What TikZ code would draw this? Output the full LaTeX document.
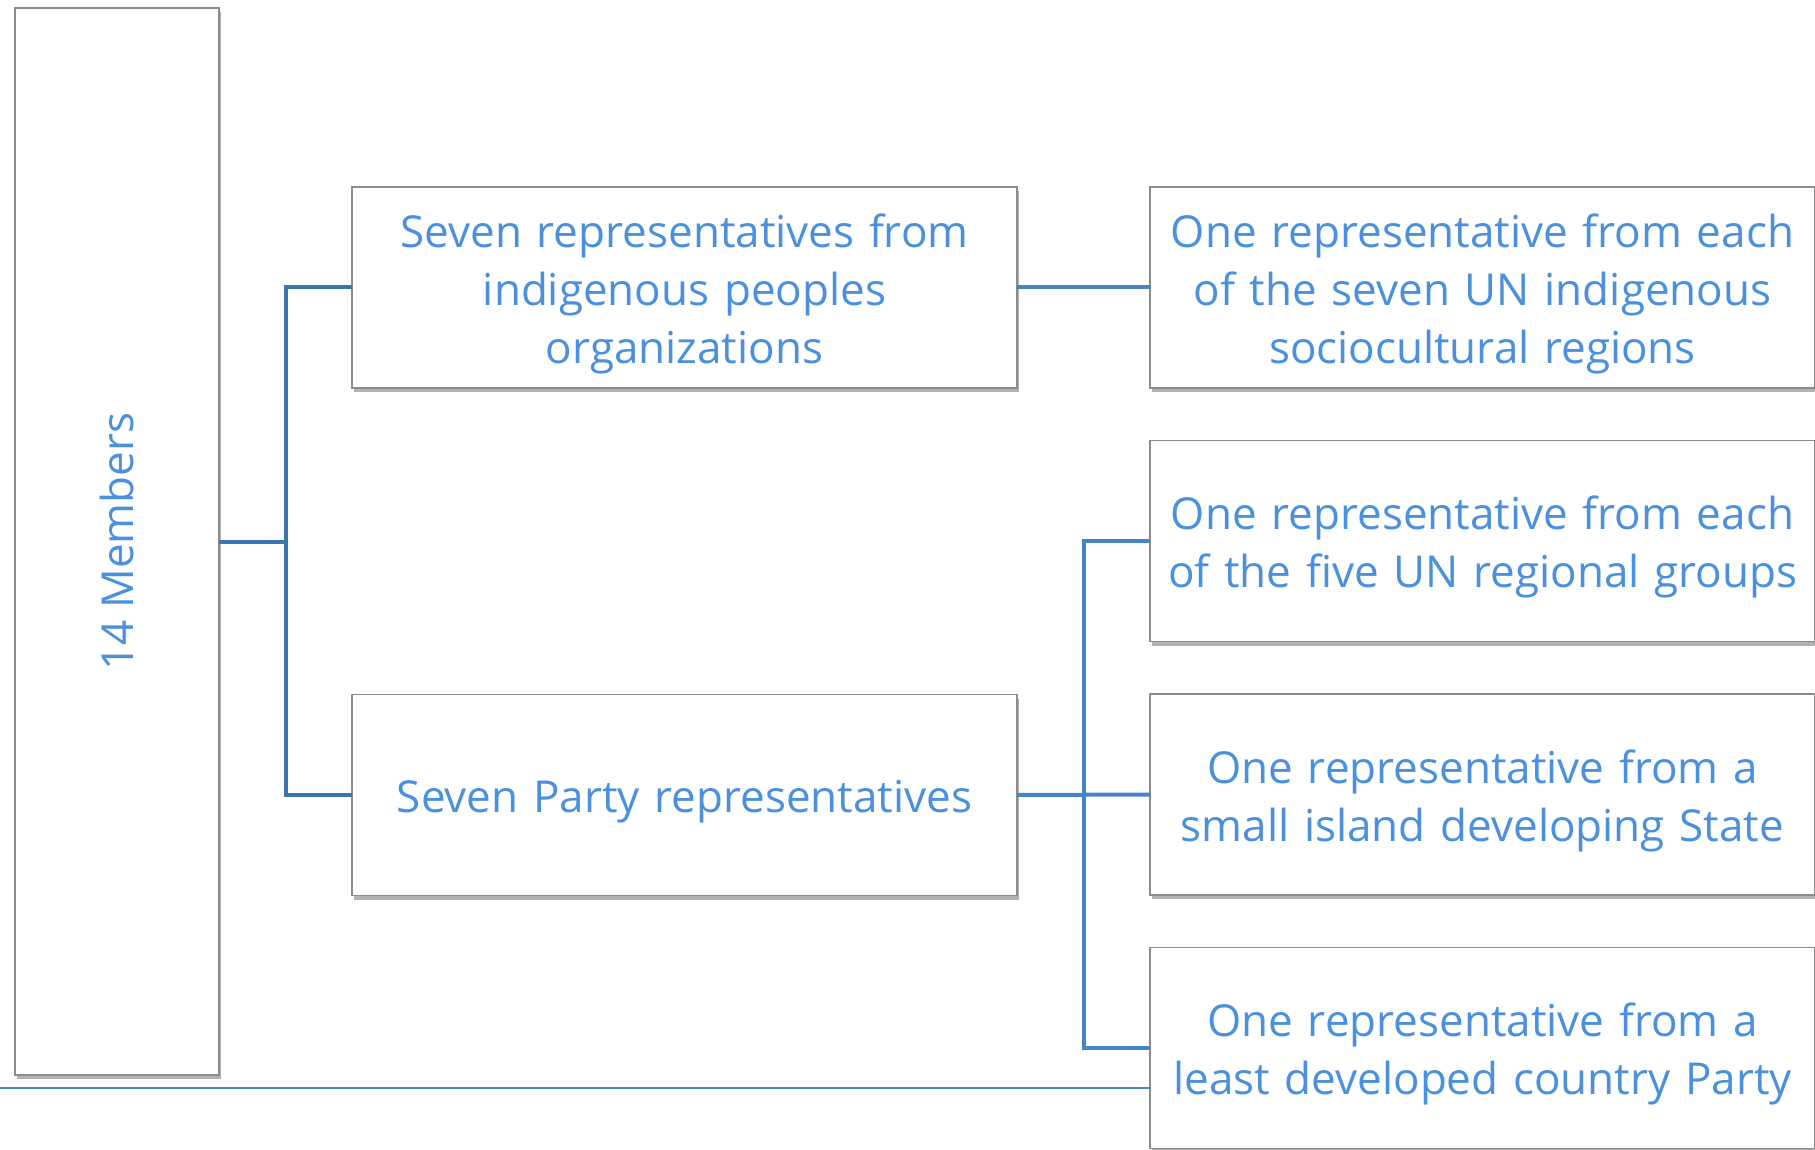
\documentclass[tikz,border=0pt]{standalone}
\usepackage{fontspec}
\setmainfont{Open Sans}
\usetikzlibrary{positioning,shadows}
\definecolor{txtblue}{HTML}{4A90DC}
\definecolor{darklink}{HTML}{3B74B3}
\definecolor{lightlink}{HTML}{4684C8}
\definecolor{boxgray}{HTML}{8C8C8C}
\begin{document}
\begin{tikzpicture}[x=0.5pt, y=-0.5pt,
    frame/.style={draw=boxgray, line width=0.75pt, fill=white, text=txtblue, inner sep=0pt, outer sep=0pt,
      font=\fontsize{22}{29}\selectfont,
      drop shadow={shadow xshift=1pt, shadow yshift=-2pt, opacity=0.3, fill=black}},
    box/.style={frame, align=center, text width=326pt, minimum width=332.5pt, minimum height=100.5pt,
      execute at begin node={\rule{0pt}{23pt}}},
    link/.style={line width=2pt, darklink},
    rlink/.style={line width=2pt, lightlink}]
  \useasboundingbox (0,0) rectangle (1815,1150);
  \node[frame, minimum width=102pt, minimum height=533.5pt] (members) at (117,541.5) {\rotatebox{90}{14 Members}};
  \node[box, right=66.5pt of members.east, yshift=127pt] (indig) {Seven representatives from\\ indigenous peoples\\ organizations};
  \node[box, right=66.5pt of members.east, yshift=-126.75pt] (party) {Seven Party representatives};
  \node[box, right=66.5pt of indig] (regions) {One representative from each\\ of the seven UN indigenous\\ sociocultural regions};
  \node[box, below=26.25pt of regions] (groups) {One representative from each\\ of the five UN regional groups};
  \node[box, below=26.25pt of groups] (sids) {One representative from a\\ small island developing State};
  \node[box, below=26.25pt of sids] (ldc) {One representative from a\\ least developed country Party};
  \coordinate (lj) at ([xshift=33.5pt]members.east);
  \coordinate (rj) at ([xshift=33.25pt]party.east);
  \coordinate (base) at (0,1088);
  \draw[link] (indig.west) -| (lj) |- (party.west);
  \draw[link] (members.east) -- (lj);
  \draw[rlink] (indig.east) -- (regions.west);
  \draw[rlink] (groups.west) -| (rj) |- (ldc.west);
  \draw[rlink] (party.east) -- (sids.west);
  \draw[lightlink, line width=1pt] (base) -- (base -| ldc.west);
\end{tikzpicture}
\end{document}
